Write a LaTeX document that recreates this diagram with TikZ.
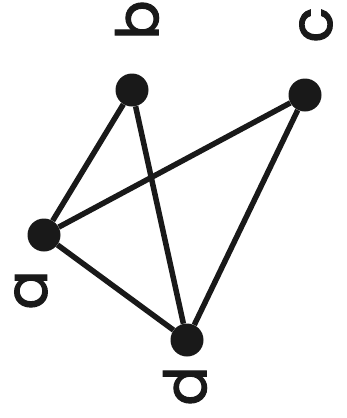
\documentclass[tikz,border=0pt]{standalone}
\usepackage{fontspec}
\newfontfamily\lblfont[FakeBold=2]{Poppins}
\begin{document}
\begin{tikzpicture}[x=1pt,y=-1pt,
  vert/.style={circle,fill=black!90,inner sep=0pt,minimum size=33pt},
  lbl/.style={rotate=90,font=\lblfont\fontsize{58}{58}\selectfont,text=black!90,inner sep=0pt},
  edge/.style={line width=5.5pt,black!90}]
\useasboundingbox (0,0) rectangle (346,418);
\node[vert] (b) at (132,90) {};
\node[vert] (c) at (305,95) {};
\node[vert] (a) at (44,235) {};
\node[vert] (d) at (187,340) {};
\node[lbl] (lb) at (137,20) {b};
\node[lbl] (lc) at (316,25) {c};
\node[lbl] (la) at (31,290) {a};
\node[lbl] (ld) at (185,386) {d};
\draw[edge] (a) -- (b);
\draw[edge] (a) -- (c);
\draw[edge] (a) -- (d);
\draw[edge] (b) -- (d);
\draw[edge] (c) -- (d);
\end{tikzpicture}
\end{document}
